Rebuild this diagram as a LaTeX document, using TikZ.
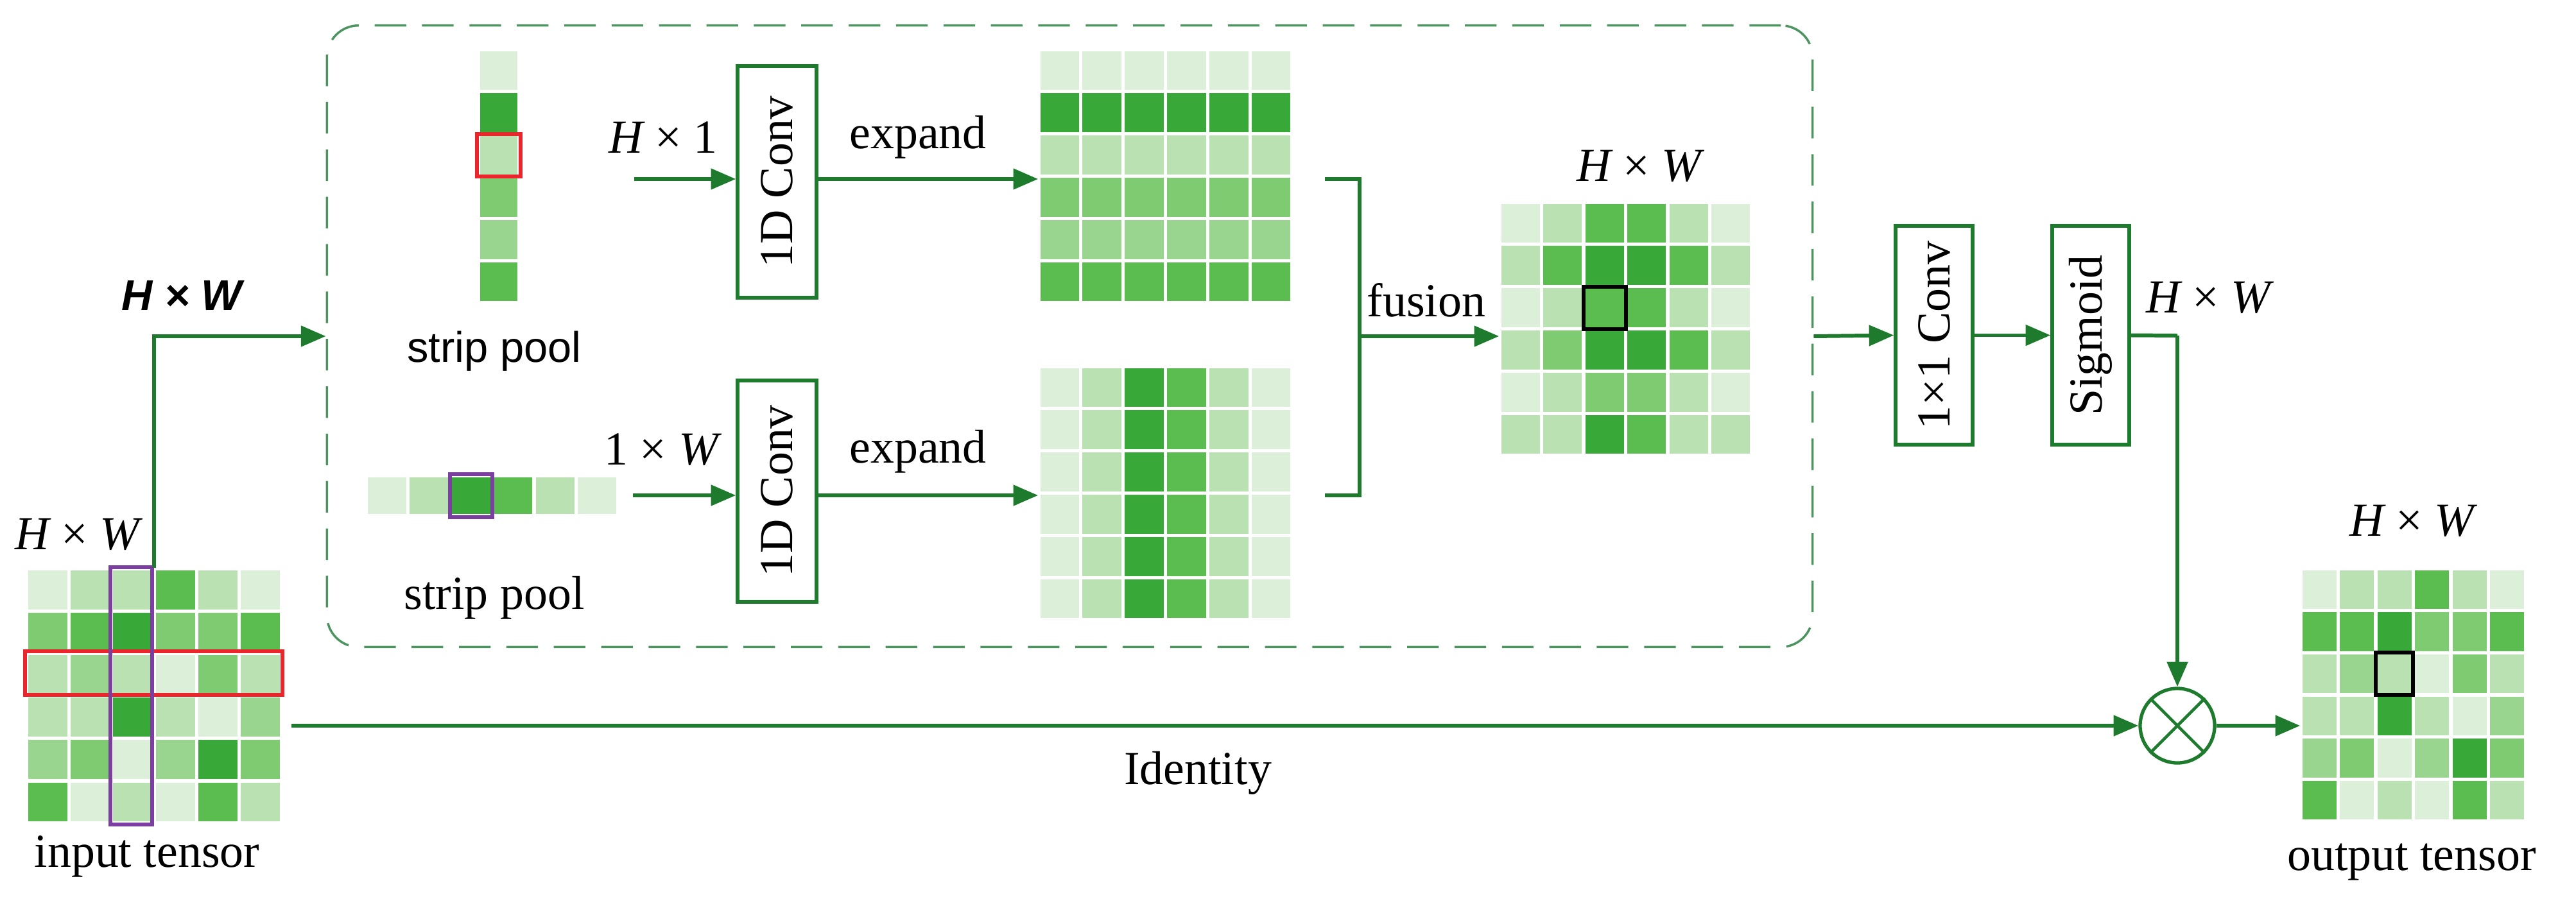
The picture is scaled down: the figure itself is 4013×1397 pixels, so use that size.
\documentclass[tikz,border=0pt]{standalone}
\usepackage{fontspec}
\setmainfont{Liberation Serif}
\setsansfont{Liberation Sans}
\usetikzlibrary{arrows.meta}
\definecolor{g1}{HTML}{DCEFD8}
\definecolor{g2}{HTML}{B9E1B1}
\definecolor{g3}{HTML}{9AD58F}
\definecolor{g4}{HTML}{7ECB72}
\definecolor{g5}{HTML}{5BBC50}
\definecolor{g6}{HTML}{38A838}
\definecolor{ln}{HTML}{1E7B2E}
\definecolor{dash}{HTML}{4E9460}
\definecolor{redc}{HTML}{E8262B}
\definecolor{purc}{HTML}{7B3FA0}
\newcommand\mycells[5]{\foreach \row [count=\r from 0] in {#5} {\foreach \c [count=\k from 0] in \row {\fill[\c, draw=white, line width=1.5pt] ({#1+\k*#3},{#2+\r*#4}) rectangle ++(#3,#4);}}}
\begin{document}
\begin{tikzpicture}[x=0.01cm,y=-0.01cm,
  txt/.style={font=\fontsize{21}{25}\selectfont, inner sep=0pt},
  arr/.style={draw=ln, line width=1.7pt, -{Triangle[length=11pt,width=9pt]}},
  ln/.style={draw=ln, line width=1.7pt},
  box/.style={draw=ln, line width=1.5pt, fill=white, rotate=90, inner sep=0pt, font=\fontsize{21}{25}\selectfont},
  grid/.style={inner sep=0pt, draw=none}]
\useasboundingbox (0,0) rectangle (4013,1397);

% dashed container
\node[grid, draw=dash, dashed, dash pattern=on 14pt off 7pt, line width=1pt, rounded corners=14pt, minimum width=23.13cm, minimum height=9.68cm] (box) at (1666.5,524) {};

% input tensor
\node[grid, minimum width=3.98cm, minimum height=3.97cm] (in) at (240,1084.5) {};
\mycells{41}{886}{66.33}{66.17}{{g1,g2,g2,g5,g2,g1},{g4,g5,g6,g4,g4,g5},{g2,g3,g2,g1,g4,g2},{g2,g2,g6,g2,g1,g3},{g3,g4,g1,g3,g6,g4},{g5,g1,g2,g1,g5,g2}}
\draw[redc, line width=1.5pt] (39,1015) rectangle (440,1083);
\draw[purc, line width=1.5pt] (172,884) rectangle (237,1285);
\node[txt] (inlab) at (120,833) {\itshape H \normalfont× \itshape W};
\node[txt] (intxt) at (229,1335) {input tensor};

% top strip
\node[grid, minimum width=0.64cm, minimum height=3.95cm] (sp1) at (777,274.5) {};
\mycells{745}{77}{64}{65.83}{{g1},{g6},{g2},{g4},{g3},{g5}}
\draw[redc, line width=1.5pt] (743,209) rectangle (811,275);
\node[txt, font=\sffamily\fontsize{19}{23}\selectfont] (sp1t) at (770,547) {strip pool};

% bottom strip
\node[grid, minimum width=3.93cm, minimum height=0.63cm] (sp2) at (766.5,772.5) {};
\mycells{570}{741}{65.5}{63}{{g1,g2,g6,g5,g2,g1}}
\draw[purc, line width=1.5pt] (701,739) rectangle (767,806);
\node[txt] (sp2t) at (770,932) {strip pool};

% labels along the branch
\node[txt, font=\sffamily\bfseries\itshape\fontsize{19}{23}\selectfont] (hw0) at (283,461) {H × W};
\draw[arr] (in.north) |- (box.west);

\coordinate (a1) at (988,279);
\coordinate (a2) at (986,772);
\node[box, minimum width=3.61cm, minimum height=1.23cm] (c1) at (1210.5,283.5) {1D Conv};
\node[box, minimum width=3.45cm, minimum height=1.23cm] (c2) at (1210.5,765.5) {1D Conv};
\draw[arr] (a1) -- (a1 -| c1.north);
\draw[arr] (a2) -- (a2 -| c2.north);
\node[txt] (h1) at (1033,214) {\itshape H \normalfont× 1};
\node[txt] (w1) at (1030,701) {1 × \itshape W};

% expanded maps
\node[grid, minimum width=3.95cm, minimum height=3.95cm] (e1) at (1815.5,274.5) {};
\mycells{1618}{77}{65.83}{65.83}{{g1,g1,g1,g1,g1,g1},{g6,g6,g6,g6,g6,g6},{g2,g2,g2,g2,g2,g2},{g4,g4,g4,g4,g4,g4},{g3,g3,g3,g3,g3,g3},{g5,g5,g5,g5,g5,g5}}
\node[grid, minimum width=3.95cm, minimum height=3.95cm] (e2) at (1815.5,768.5) {};
\mycells{1618}{571}{65.83}{65.83}{{g1,g2,g6,g5,g2,g1},{g1,g2,g6,g5,g2,g1},{g1,g2,g6,g5,g2,g1},{g1,g2,g6,g5,g2,g1},{g1,g2,g6,g5,g2,g1},{g1,g2,g6,g5,g2,g1}}
\draw[arr] (c1.south |- a1) -- (e1.west |- a1);
\draw[arr] (c2.south |- a2) -- (e2.west |- a2);
\node[txt] (ex1) at (1430,214) {expand};
\node[txt] (ex2) at (1430,704) {expand};

% fusion
\coordinate (b1) at (2064,279);
\coordinate (b2) at (2064,772);
\coordinate (bm) at (2118,524);
\draw[ln] (b1) -- (b1 -| bm) -- (b2 -| bm) -- (b2);
\node[grid, minimum width=3.93cm, minimum height=3.95cm] (fu) at (2532.5,512.5) {};
\mycells{2336}{315}{65.5}{65.83}{{g1,g2,g5,g5,g2,g1},{g2,g5,g6,g6,g5,g2},{g1,g2,g5,g5,g2,g1},{g2,g4,g6,g6,g5,g2},{g1,g2,g4,g4,g2,g1},{g2,g2,g6,g5,g2,g2}}
\draw[black, line width=1.5pt] (2467,447) rectangle (2533,513);
\draw[arr] (bm) -- (fu.west |- bm);
\node[txt] (fut) at (2222,468) {fusion};
\node[txt] (hwf) at (2553,259) {\itshape H \normalfont× \itshape W};

% 1x1 conv, sigmoid
\node[box, minimum width=3.41cm, minimum height=1.20cm] (c11) at (3013,522.5) {1×1 Conv};
\node[box, minimum width=3.41cm, minimum height=1.20cm] (sig) at (3257,522.5) {Sigmoid};
\draw[arr] (box.east) -- (c11.north);
\draw[arr] (c11.south) -- (sig.north);
\node[txt] (hws) at (3440,464) {\itshape H \normalfont× \itshape W};

% multiply
\node[draw=ln, line width=1.5pt, circle, minimum size=1.16cm, inner sep=0pt] (mul) at (3392,1131) {};
\draw[ln, line width=1.3pt] (mul.north east) -- (mul.south west) (mul.north west) -- (mul.south east);
\coordinate (sx) at (3392,523);
\draw[ln] (sig.south) -- (sx);
\draw[arr] (sx) -- (mul.north);
\coordinate (id) at (454,1131);
\draw[arr] (id) -- (mul.west);
\node[txt] (idt) at (1866,1205) {Identity};

% output tensor
\node[grid, minimum width=3.51cm, minimum height=3.94cm] (out) at (3759.5,1083) {};
\mycells{3584}{886}{58.5}{65.67}{{g1,g2,g2,g5,g2,g1},{g5,g5,g6,g4,g4,g5},{g2,g3,g2,g1,g4,g2},{g2,g2,g6,g2,g1,g3},{g3,g4,g1,g3,g6,g4},{g5,g1,g2,g1,g5,g2}}
\draw[black, line width=1.5pt] (3701,1017) rectangle (3759,1083);
\draw[arr] (mul.east) -- (out.west |- mul);
\node[txt] (hwo) at (3757,812) {\itshape H \normalfont× \itshape W};
\node[txt] (outt) at (3757,1344) {output tensor};
\end{tikzpicture}
\end{document}
